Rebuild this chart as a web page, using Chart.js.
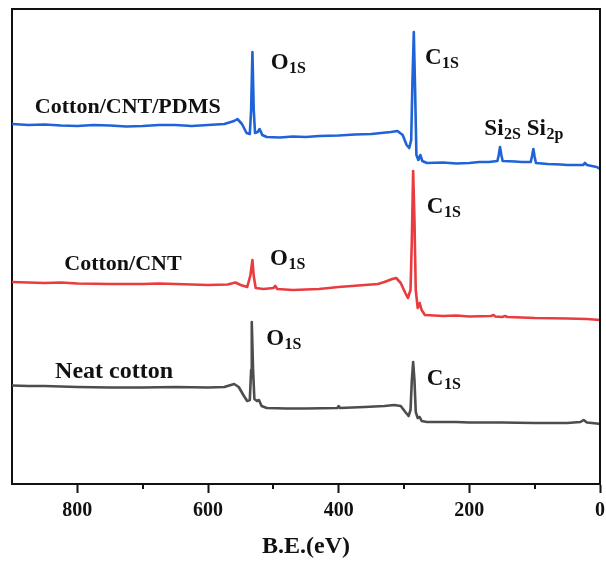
<!DOCTYPE html>
<html>
<head>
<meta charset="utf-8">
<script src="https://cdn.jsdelivr.net/npm/chart.js@4"></script>
<style>
  html, body { margin: 0; padding: 0; background: #ffffff; }
  #wrap { width: 606px; height: 562px; }
</style>
</head>
<body>
<div id="wrap"><canvas id="xps" width="606" height="562"></canvas></div>
<script>
// Survey XPS spectra, binding energy (eV) vs. intensity (a.u., stacked with offsets)

// Cotton/CNT/PDMS
const pdmsEnergy = [900, 875, 850, 825, 800, 775, 750, 725, 700, 675, 650, 625, 600, 575, 560, 555, 548, 541, 536, 534, 532, 530, 528, 524, 521, 517, 510, 490, 470, 450, 430, 400, 375, 350, 320, 310, 302, 296, 292, 289, 287, 285, 283, 281, 278, 275, 272, 265, 240, 220, 200, 185, 170, 157, 155, 153, 151, 149, 130, 120, 106, 104, 102, 100, 98, 80, 60, 50, 26, 23, 20, 5, 0];
const pdmsCounts = [360, 359, 359.5, 358.5, 358, 359, 358.5, 357.5, 358, 359, 359, 358, 359, 360, 363, 365, 360, 351, 350, 374, 432, 374, 351, 352, 355, 349, 347, 346.5, 347.5, 347, 348, 348.5, 349.5, 350, 352, 353, 349, 339, 336, 344, 404, 452, 394, 329, 324, 329, 323, 321, 321.5, 320.5, 321, 322, 322, 323, 329, 337, 329, 323, 322.5, 322, 322, 328, 335, 327, 321, 320, 319.5, 319, 319, 321, 319, 317, 315];

// Cotton/CNT
const cntEnergy = [900, 875, 850, 825, 800, 750, 700, 675, 650, 600, 570, 558, 550, 540, 535, 532, 530, 527, 515, 500, 497, 494, 470, 450, 430, 400, 380, 360, 340, 330, 318, 312, 305, 298, 294, 290, 288, 286, 284, 282, 279, 276, 273, 268, 240, 220, 200, 167, 163, 160, 150, 145, 142, 120, 100, 50, 20, 0];
const cntCounts = [202, 201.5, 201, 201.5, 200.5, 200, 200, 200.5, 200, 199, 199.5, 201.5, 199, 197, 209, 224, 208, 196, 195, 196, 198, 195, 194, 194.5, 195, 197, 198, 199, 200, 202, 205, 206, 201, 191, 186, 194, 244, 313, 264, 194, 176, 181, 174, 169, 168, 168.5, 167.5, 168, 169, 167.5, 167, 168, 167, 166.5, 166, 165.5, 165, 164];

// Neat cotton
const neatEnergy = [900, 875, 850, 825, 800, 750, 700, 650, 600, 575, 565, 560, 553, 545, 540, 536, 534, 533, 531, 529, 525, 522, 518, 510, 480, 450, 402, 400, 398, 360, 330, 315, 305, 298, 293, 290, 288, 286, 284, 282, 279, 276, 273, 265, 220, 200, 150, 100, 50, 30, 25, 20, 5, 0];
const neatCounts = [98.5, 98, 98, 97.5, 97, 96.5, 96.5, 97, 96.5, 97, 99, 100, 97, 88, 83, 84, 114, 162, 114, 85, 83, 84, 78, 76, 75.5, 75.5, 76, 78, 76, 77, 78, 79, 78, 72, 68, 74, 104, 122, 104, 72, 66, 67, 63, 62, 62, 61.5, 61.5, 61, 61, 62, 64, 61.5, 60.5, 60];

// Axis ticks
const majorTicks = [800, 600, 400, 200, 0];
const minorTicks = [700, 500, 300, 100];

// Sample annotations: [energy, intensity, text, font size]
const sampleLabels = [[865, 378, 'Cotton/CNT/PDMS', 22], [820, 221, 'Cotton/CNT', 22], [834, 114, 'Neat cotton', 24]];
// Peak annotations: [energy, intensity, element, subscript]
const peakLabels = [
  [504, 423, 'O', '1S'], [268, 428, 'C', '1S'], [177, 357, 'Si', '2S'], [112, 357, 'Si', '2p'],
  [505, 227, 'O', '1S'], [265, 279, 'C', '1S'],
  [511, 147, 'O', '1S'], [265, 107, 'C', '1S']
];

const SERIF = '"Liberation Serif", "Times New Roman", serif';
const INK = '#111111';

function pairs(xs, ys) { return xs.map((x, i) => ({ x: x, y: ys[i] })); }

const framePlugin = {
  id: 'frame',
  afterDraw(chart) {
    const { ctx, chartArea: a, scales: { x } } = chart;
    ctx.save();
    ctx.strokeStyle = INK;
    ctx.lineWidth = 2;
    ctx.beginPath();
    ctx.moveTo(a.left - 1, a.top);
    ctx.lineTo(a.right, a.top);
    ctx.lineTo(a.right, a.bottom);
    ctx.stroke();
    // minor ticks on the energy axis
    ctx.beginPath();
    minorTicks.forEach(v => {
      const px = Math.round(x.getPixelForValue(v));
      ctx.moveTo(px, a.bottom);
      ctx.lineTo(px, a.bottom + 5);
    });
    ctx.stroke();
    ctx.restore();
  }
};

const labelPlugin = {
  id: 'peakLabels',
  afterDatasetsDraw(chart) {
    const { ctx, scales: { x, y } } = chart;
    ctx.save();
    ctx.fillStyle = INK;
    ctx.textBaseline = 'alphabetic';
    ctx.textAlign = 'left';
    sampleLabels.forEach(([e, v, text, size]) => {
      ctx.font = 'bold ' + size + 'px ' + SERIF;
      ctx.fillText(text, x.getPixelForValue(e), y.getPixelForValue(v) + size * 0.34);
    });
    peakLabels.forEach(([e, v, main, sub]) => {
      const px = x.getPixelForValue(e);
      const base = y.getPixelForValue(v) + 8;
      ctx.font = 'bold 23px ' + SERIF;
      ctx.fillText(main, px, base);
      const w = ctx.measureText(main).width;
      ctx.font = 'bold 16px ' + SERIF;
      ctx.fillText(sub, px + w + 0.5, base + 4);
    });
    ctx.restore();
  }
};

new Chart(document.getElementById('xps'), {
  type: 'line',
  data: {
    datasets: [
      { label: 'Cotton/CNT/PDMS', data: pairs(pdmsEnergy, pdmsCounts), borderColor: '#1f63d6' },
      { label: 'Cotton/CNT', data: pairs(cntEnergy, cntCounts), borderColor: '#ea3b3f' },
      { label: 'Neat cotton', data: pairs(neatEnergy, neatCounts), borderColor: '#4d4d4d' }
    ]
  },
  options: {
    responsive: false,
    animation: false,
    devicePixelRatio: 1,
    layout: { padding: { left: 12, right: 6, top: 9, bottom: 0 } },
    elements: {
      line: { borderWidth: 2.6, tension: 0, borderJoinStyle: 'round', borderCapStyle: 'round' },
      point: { radius: 0 }
    },
    plugins: { legend: { display: false }, tooltip: { enabled: false } },
    scales: {
      x: {
        type: 'linear',
        reverse: true,
        min: 0,
        max: 900,
        afterBuildTicks: s => { s.ticks = majorTicks.map(v => ({ value: v })); },
        afterFit: s => { s.height = 78; s.paddingLeft = 0; s.paddingRight = 0; },
        ticks: { color: INK, font: { family: SERIF, size: 20, weight: 'bold' }, padding: 6, maxRotation: 0 },
        grid: { display: true, drawOnChartArea: false, drawTicks: true, tickLength: 9, tickWidth: 2, tickColor: INK },
        border: { display: true, color: INK, width: 2 },
        title: { display: true, text: 'B.E.(eV)', color: INK, font: { family: SERIF, size: 24, weight: 'bold' }, padding: { top: 0, bottom: 1 } }
      },
      y: {
        min: 0,
        max: 475,
        afterFit: s => { s.width = 0; },
        ticks: { display: false },
        grid: { display: false },
        border: { display: true, color: INK, width: 2 }
      }
    }
  },
  plugins: [framePlugin, labelPlugin]
});
</script>
</body>
</html>
